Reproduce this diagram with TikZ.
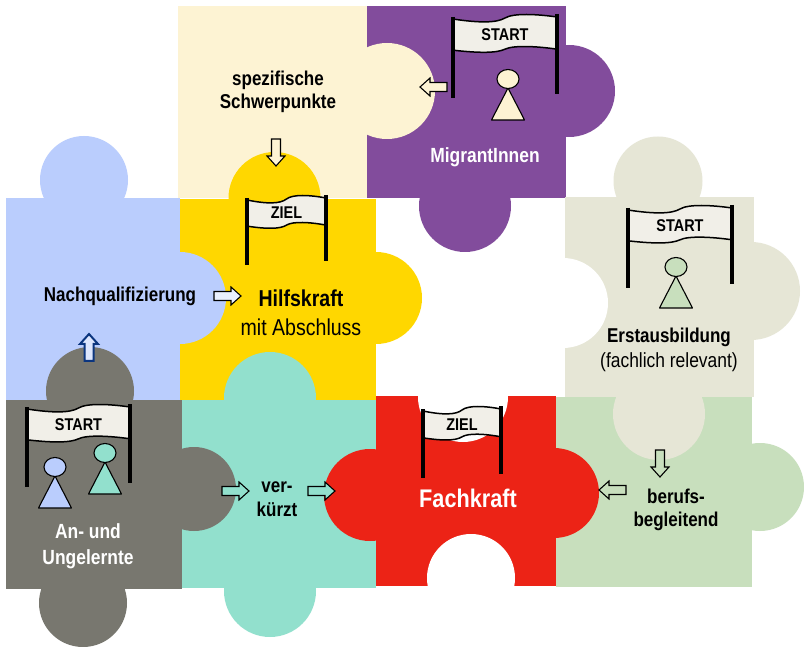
\documentclass[tikz,border=0pt]{standalone}
\usepackage{fontspec}
\setmainfont{Liberation Sans}[FakeStretch=0.85]
\definecolor{cream}{HTML}{FDF3D3}
\definecolor{purple1}{HTML}{824C9C}
\definecolor{yellow1}{HTML}{FFD700}
\definecolor{blue1}{HTML}{BACDFD}
\definecolor{gray1}{HTML}{78776F}
\definecolor{teal1}{HTML}{92E0CD}
\definecolor{red1}{HTML}{EC2316}
\definecolor{green1}{HTML}{C8DFBD}
\definecolor{beige1}{HTML}{E6E6D6}
\definecolor{banner}{HTML}{F1EFE8}
\definecolor{navy1}{HTML}{0B357F}
\tikzset{
  x=1pt,y=-1pt,
  label/.style={align=center,text=black,inner sep=0pt,font=\bfseries\fontsize{20}{23.5}\selectfont},
  whitelabel/.style={align=center,text=white,inner sep=0pt,font=\bfseries\fontsize{20.5}{26}\selectfont},
  flagtext/.style={inner sep=0pt,font=\bfseries\fontsize{17}{17}\selectfont},
  blockarrow/.style={draw=black,line width=1.1pt,line join=miter},
  pawn/.style={draw=black,line width=1.1pt,line join=round},
}
% \flagmark{x left}{y top of left pole}{width}{height}{name}{text}
\newcommand{\flagmark}[6]{%
  \begin{scope}[shift={(#1,#2)}]
    \fill[banner] (0,2) .. controls ({0.25*#3},6) and ({0.42*#3},6) .. ({0.5*#3},1)
       .. controls ({0.58*#3},-4) and ({0.8*#3},-3) .. (#3,0)
       -- (#3,{0.36*#4+3}) .. controls ({0.8*#3},{0.36*#4}) and ({0.58*#3},{0.36*#4-1}) .. ({0.5*#3},{0.36*#4+3})
       .. controls ({0.42*#3},{0.36*#4+7}) and ({0.25*#3},{0.36*#4+7}) .. (0,{0.36*#4+4}) -- cycle;
    \draw[line width=1.5pt] (0,2) .. controls ({0.25*#3},6) and ({0.42*#3},6) .. ({0.5*#3},1)
       .. controls ({0.58*#3},-4) and ({0.8*#3},-3) .. (#3,0);
    \draw[line width=1.5pt] (#3,{0.36*#4+3}) .. controls ({0.8*#3},{0.36*#4}) and ({0.58*#3},{0.36*#4-1}) .. ({0.5*#3},{0.36*#4+3})
       .. controls ({0.42*#3},{0.36*#4+7}) and ({0.25*#3},{0.36*#4+7}) .. (0,{0.36*#4+4});
    \draw[line width=4pt] (0,0) -- (0,#4);
    \draw[line width=4pt] (#3,-3) -- (#3,{#4-4});
    \node[flagtext] (#5) at ({0.5*#3},{0.18*#4+3}) {#6};
  \end{scope}}
% \pawnmark{x}{y of head centre}{fill}
\newcommand{\pawnmark}[3]{%
  \draw[pawn,fill=#3] (#1,#2+9) -- (#1-16.5,#2+41) -- (#1+16.5,#2+41) -- cycle;
  \draw[pawn,fill=#3] (#1,#2) ellipse [x radius=11,y radius=9.5];}
% \arrowmark{tip x}{tip y}{rotation}{fill}{options}
\newcommand{\arrowmark}[5]{%
  \draw[blockarrow,#5,fill=#4,shift={(#1,#2)},rotate=#3]
    (0,0) -- (-10,-9) -- (-10,-4.5) -- (-27,-4.5) -- (-27,4.5) -- (-10,4.5) -- (-10,9) -- cycle;}
\begin{document}
\begin{tikzpicture}
\useasboundingbox (0,0) rectangle (804,647);
\clip (0,0) rectangle (804,647);
\fill[white] (0,0) rectangle (804,647);
% purple
\fill[purple1] (367,6) rectangle (566,198);
\fill[purple1] (569,91) circle (46);
\fill[purple1] (465,206) circle (46);
\fill[white] (511.5,198) rectangle (566,200);
% cream
\fill[cream] (178,6) rectangle (367,198);
\fill[cream] (387,91) circle (48);
\fill[yellow1] (274.5,198) circle (46);
% blue
\fill[blue1] (6,198) rectangle (180,400);
\fill[blue1] (84,180) circle (44);
% yellow
\fill[yellow1] (180,199) rectangle (376,400);
\fill[yellow1] (376,298) circle (46);
\fill[blue1] (180,298) circle (46);
% teal
\fill[teal1] (182,400) rectangle (376,588);
\fill[teal1] (270,398) circle (46);
\fill[teal1] (270,591) circle (46);
% gray
\fill[gray1] (90,391) circle (44);
\fill[gray1] (6,400) rectangle (182,589);
\fill[gray1] (194,489) circle (42);
\fill[gray1] (83,603) circle (44);
% green
\fill[green1] (556,397) rectangle (752,587);
\fill[green1] (760,487) circle (44);
% beige
\fill[beige1] (565,197) rectangle (754,397);
\fill[beige1] (658,181) circle (44.5);
\fill[beige1] (751,291) circle (49);
\fill[beige1] (659,414) circle (46);
\fill[white] (563,303) circle (45);
\fill[white] (540,258) rectangle (564.9,350);
% red
\fill[red1] (376,396) rectangle (556,586);
\fill[red1] (370,495) circle (46);
\fill[red1] (554,493) circle (45);
\fill[white] (463,397) circle (45);
\fill[white] (471,578) circle (44);
\fill[white] (376,387) rectangle (556,396);
\fill[white] (420,586) rectangle (522,630);
% flags
\flagmark{453}{17}{104}{81}{fs1}{START}
\flagmark{247}{198}{79}{67}{fz1}{ZIEL}
\flagmark{628}{208}{104}{80}{fs2}{START}
\flagmark{27}{407}{103}{80}{fs3}{START}
\flagmark{423}{409}{78}{69}{fz2}{ZIEL}
% pawns
\pawnmark{508}{79}{cream}
\pawnmark{676}{267}{green1}
\pawnmark{55}{467}{blue1}
\pawnmark{105}{453}{teal1}
% arrows
\arrowmark{420}{87}{180}{cream}{}
\arrowmark{276}{166}{-90}{cream}{}
\arrowmark{241}{296}{0}{blue1!30!white}{}
\arrowmark{89}{334}{90}{blue1!50!white}{draw=navy1,line width=2pt}
\arrowmark{249}{491}{0}{teal1}{}
\arrowmark{335}{491}{0}{teal1}{}
\arrowmark{599}{490}{180}{green1}{}
\arrowmark{660}{477}{-90}{green1}{}
% labels
\node[label] (a) at (278,92) {spezifische\\Schwerpunkte};
\node[whitelabel] (b) at (485,157) {MigrantInnen};
\node[label] (c) at (120,296) {Nachqualifizierung};
\node[inner sep=0pt,font=\bfseries\fontsize{23}{23}\selectfont] (d) at (301,298) {Hilfskraft};
\node[inner sep=0pt,font=\fontsize{23}{23}\selectfont] (e) at (301,327) {mit Abschluss};
\node[label] (f) at (669,337) {Erstausbildung};
\node[inner sep=0pt,font=\fontsize{20.5}{20.5}\selectfont] (g) at (669,362) {(fachlich relevant)};
\node[label] (h) at (277,499) {ver-\\kürzt};
\node[inner sep=0pt,text=white,font=\bfseries\fontsize{25.5}{25.5}\selectfont] (i) at (468,498) {Fachkraft};
\node[label] (j) at (676,510) {berufs-\\begleitend};
\node[whitelabel] (k) at (88,546) {An- und\\Ungelernte};
\end{tikzpicture}
\end{document}
